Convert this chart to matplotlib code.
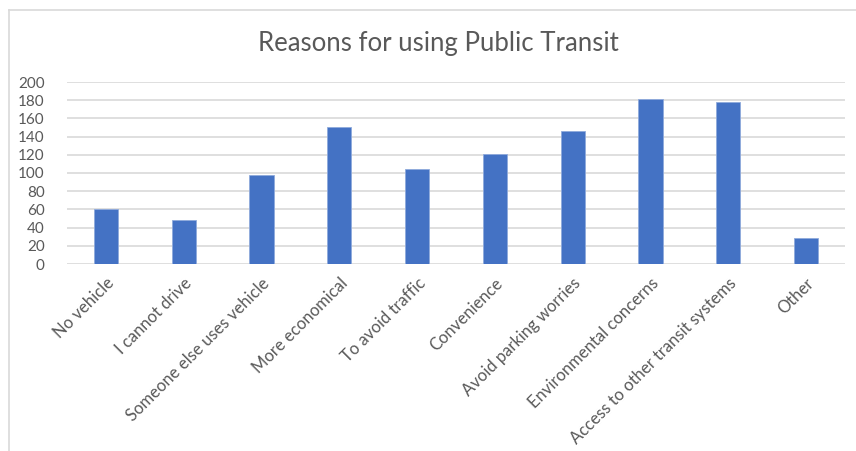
import matplotlib.pyplot as plt
from matplotlib.lines import Line2D

categories = ["No vehicle", "I cannot drive", "Someone else uses vehicle",
              "More economical", "To avoid traffic", "Convenience",
              "Avoid parking worries", "Environmental concerns",
              "Access to other transit systems", "Other"]
counts = [60, 48, 98, 151, 104, 121, 146, 181, 178, 29]
yticks = list(range(0, 201, 20))

plt.rcParams['font.family'] = ['Lato', 'DejaVu Sans']
grey = '#595959'

fig = plt.figure(figsize=(8.56, 4.51), dpi=100)
ax = fig.add_axes([67 / 856, 1 - 264 / 451, 778 / 856, 182 / 451])

x = range(len(categories))
ax.bar(x, counts, width=0.31, color='#4472C4', edgecolor='#8FAADC',
       linewidth=0.6, zorder=3)

ax.set_xlim(-0.5, len(categories) - 0.5)
ax.set_ylim(0, 200)
ax.set_yticks(yticks)
ax.yaxis.grid(True, color='#D9D9D9', linewidth=1.2, zorder=0)
ax.set_xticks(list(x))
ax.set_xticklabels(categories, rotation=45, ha='right', rotation_mode='anchor',
                   fontsize=12, color=grey)
ax.tick_params(axis='y', labelsize=11, labelcolor=grey, length=0, pad=16)
ax.tick_params(axis='x', length=0, pad=8)
for s in ax.spines.values():
    s.set_visible(False)

fig.text(0.512, 1 - 43 / 451, "Reasons for using Public Transit",
         ha='center', va='center', fontsize=18.5, color=grey)

# chart frame (top and left edges visible)
fig.add_artist(Line2D([9 / 856, 9 / 856], [0, 1 - 10 / 451], color='#D9D9D9', linewidth=1.2))
fig.add_artist(Line2D([9 / 856, 1], [1 - 10 / 451, 1 - 10 / 451], color='#D9D9D9', linewidth=1.2))

fig.savefig('out.png', dpi=100)
